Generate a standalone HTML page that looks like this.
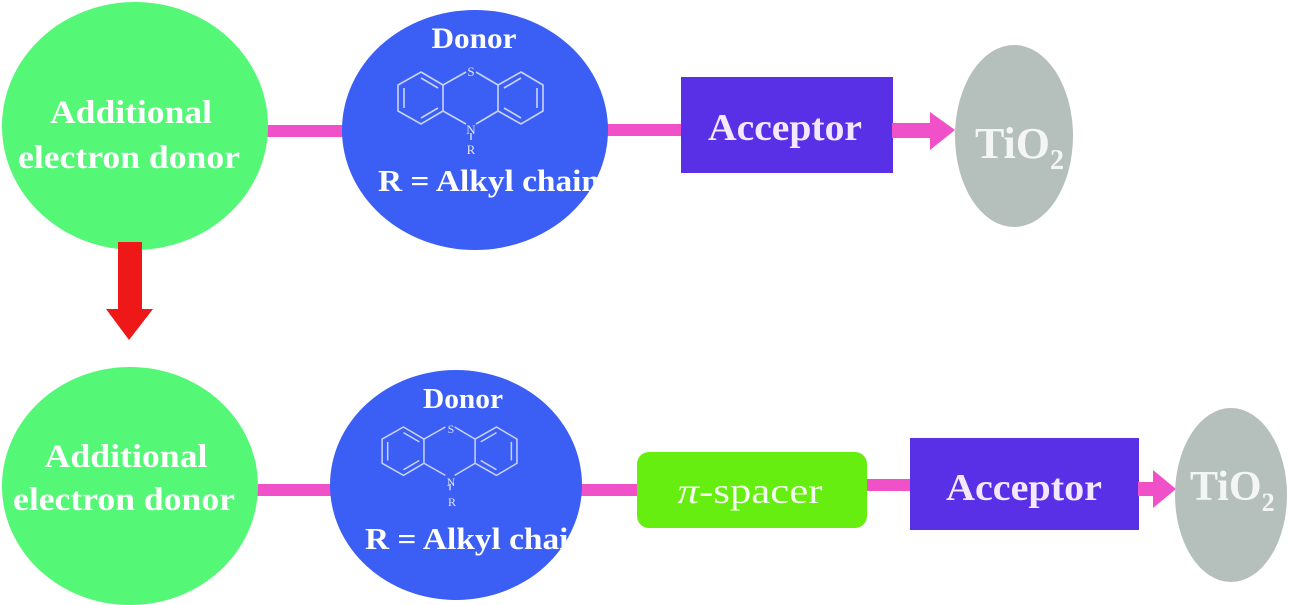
<!DOCTYPE html>
<html><head><meta charset="utf-8"><style>
html,body{margin:0;padding:0;background:#fff;}
svg{display:block;}
text{font-family:"Liberation Serif",serif;font-weight:bold;fill:#fff;}
</style></head><body>
<svg width="1289" height="605" viewBox="0 0 1289 605" xmlns="http://www.w3.org/2000/svg">
<defs>
<clipPath id="cb1"><ellipse cx="475" cy="130" rx="133" ry="120"/></clipPath>
<clipPath id="cb2"><ellipse cx="456" cy="485" rx="126" ry="115"/></clipPath>
<clipPath id="ct1"><ellipse cx="1014" cy="136" rx="59" ry="91"/></clipPath>
<clipPath id="ct2"><ellipse cx="1231" cy="495" rx="56" ry="87"/></clipPath>
<g id="ptz" fill="none" stroke="#c9d4ff" stroke-width="1.6">
 <polygon points="421,72 443,85 443,111 421,124 398,111 398,85"/>
 <polyline points="443,85 466,72"/>
 <polyline points="476,72 498,85"/>
 <polyline points="443,111 466,124"/>
 <polyline points="476,124 498,111"/>
 <polygon points="521,72 543,85 543,111 521,124 498,111 498,85"/>
 <line x1="404" y1="88" x2="404" y2="108"/>
 <line x1="421" y1="78" x2="438" y2="88"/>
 <line x1="421" y1="118" x2="438" y2="108"/>
 <line x1="537" y1="88" x2="537" y2="108"/>
 <line x1="521" y1="78" x2="504" y2="88"/>
 <line x1="521" y1="118" x2="504" y2="108"/>
 <line x1="471" y1="133" x2="471" y2="140"/>
</g>
</defs>

<!-- top row -->
<rect x="266" y="125" width="82" height="12" fill="#f050c8"/>
<rect x="604" y="124" width="80" height="12" fill="#f050c8"/>
<ellipse cx="135" cy="126" rx="133" ry="124" fill="#55f777"/>
<text x="131" y="123" font-size="33" text-anchor="middle" textLength="162" lengthAdjust="spacingAndGlyphs">Additional</text>
<text x="129" y="168" font-size="33" text-anchor="middle" textLength="222" lengthAdjust="spacingAndGlyphs">electron donor</text>

<ellipse cx="475" cy="130" rx="133" ry="120" fill="#3b5ef5"/>
<text x="474" y="48" font-size="30" text-anchor="middle" textLength="85" lengthAdjust="spacingAndGlyphs">Donor</text>
<use href="#ptz"/>
<text x="471" y="76" font-size="13" text-anchor="middle" style="font-weight:normal;fill:#dfe6ff">S</text>
<text x="471" y="134" font-size="13" text-anchor="middle" style="font-weight:normal;fill:#dfe6ff">N</text>
<text x="471" y="154" font-size="13" text-anchor="middle" style="font-weight:normal;fill:#dfe6ff">R</text>
<g clip-path="url(#cb1)"><text x="378" y="191" font-size="31" textLength="222" lengthAdjust="spacingAndGlyphs">R = Alkyl  chain</text></g>

<rect x="681" y="77" width="212" height="96" fill="#5a30e6"/>
<text x="785" y="140" font-size="38" text-anchor="middle" textLength="154" lengthAdjust="spacingAndGlyphs" style="fill:#f2e8ff">Acceptor</text>
<rect x="892" y="123" width="40" height="15" fill="#f050c8"/>
<polygon points="930,112 955,130 930,150" fill="#f050c8"/>
<ellipse cx="1014" cy="136" rx="59" ry="91" fill="#b5c0bd"/>
<g clip-path="url(#ct1)"><text x="975" y="158" font-size="44" style="fill:#f4f6f5">TiO<tspan font-size="28" dy="11">2</tspan></text></g>

<!-- red arrow -->
<rect x="118" y="242" width="24" height="70" fill="#ee1818"/>
<polygon points="106,309 153,309 129,340" fill="#ee1818"/>

<!-- bottom row -->
<rect x="256" y="484" width="80" height="12" fill="#f050c8"/>
<rect x="578" y="484" width="62" height="12" fill="#f050c8"/>
<rect x="864" y="479" width="48" height="12" fill="#f050c8"/>
<ellipse cx="130" cy="486" rx="128" ry="119" fill="#55f777"/>
<text x="126" y="467" font-size="33" text-anchor="middle" textLength="163" lengthAdjust="spacingAndGlyphs">Additional</text>
<text x="124" y="510" font-size="33" text-anchor="middle" textLength="222" lengthAdjust="spacingAndGlyphs">electron donor</text>

<ellipse cx="456" cy="485" rx="126" ry="115" fill="#3b5ef5"/>
<text x="463" y="408" font-size="28" text-anchor="middle" textLength="80" lengthAdjust="spacingAndGlyphs">Donor</text>
<g transform="translate(450 427) scale(0.93) translate(-471 -72)"><use href="#ptz"/></g>
<text x="451" y="433" font-size="12" text-anchor="middle" style="font-weight:normal;fill:#dfe6ff">S</text>
<text x="451" y="486" font-size="12" text-anchor="middle" style="font-weight:normal;fill:#dfe6ff">N</text>
<text x="452" y="506" font-size="12" text-anchor="middle" style="font-weight:normal;fill:#dfe6ff">R</text>
<g clip-path="url(#cb2)"><text x="365" y="549" font-size="31" textLength="222" lengthAdjust="spacingAndGlyphs">R = Alkyl  chain</text></g>

<rect x="637" y="452" width="230" height="76" rx="12" fill="#66ee11"/>
<text x="750" y="503" font-size="36" text-anchor="middle" textLength="145" lengthAdjust="spacingAndGlyphs" style="font-weight:normal;fill:#f4fff0"><tspan font-style="italic">π</tspan>-spacer</text>

<rect x="910" y="438" width="229" height="92" fill="#5a30e6"/>
<text x="1024" y="500" font-size="38" text-anchor="middle" textLength="156" lengthAdjust="spacingAndGlyphs" style="fill:#f2e8ff">Acceptor</text>
<rect x="1138" y="482" width="18" height="14" fill="#f050c8"/>
<polygon points="1153,470 1176,489 1153,508" fill="#f050c8"/>
<ellipse cx="1231" cy="495" rx="56" ry="87" fill="#b5c0bd"/>
<g clip-path="url(#ct2)"><text x="1190" y="500" font-size="42" style="fill:#f4f6f5">TiO<tspan font-size="26" dy="11">2</tspan></text></g>
</svg>
</body></html>
